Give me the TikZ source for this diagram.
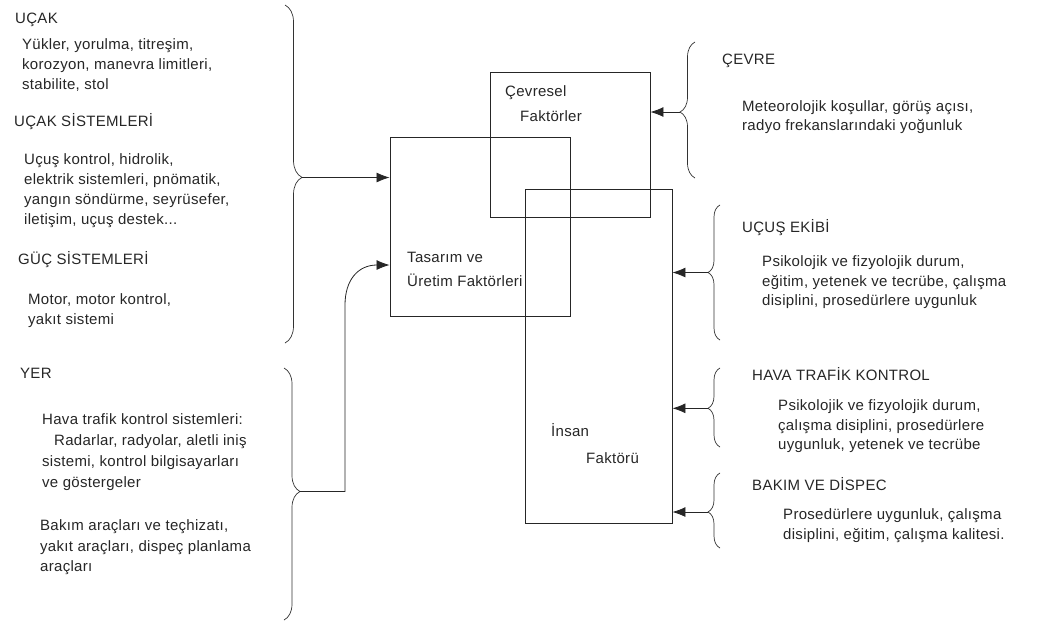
\documentclass[tikz,border=0pt]{standalone}
\usepackage{fontspec}
\setmainfont{Liberation Sans}[LetterSpace=2]
\usetikzlibrary{arrows.meta,decorations.pathreplacing}

\tikzset{
  txt/.style={anchor=west, inner sep=0pt, text height=10.5pt, text depth=3pt,
    font=\fontsize{15}{18}\selectfont, text=black!85},
  box/.style={draw=black!85, line width=0.9pt, inner sep=0pt},
  brc/.style 2 args={decorate, decoration={brace, amplitude=#1, aspect=#2},
    draw=black!80, line width=0.7pt},
  arr/.style={-{Latex[length=13pt,width=10pt]}, draw=black!85, line width=0.8pt}
}

\begin{document}
\begin{tikzpicture}[x=1pt,y=-1pt]
\useasboundingbox (0,0) rectangle (1051,625);

% boxes
\node[box, minimum width=160pt, minimum height=145pt] (cevresel) at (570,144.5) {};
\node[box, minimum width=180pt, minimum height=179pt] (tasarim) at (480,226.5) {};
\node[box, minimum width=147pt, minimum height=334pt] (insan) at (598.5,356) {};
\node[txt] (cev1) at (505,93) {Çevresel};
\node[txt] (cev2) at (520,118) {Faktörler};
\node[txt] (tas1) at (407,259) {Tasarım ve};
\node[txt] (tas2) at (407,283) {Üretim Faktörleri};
\node[txt] (ins1) at (551,433) {İnsan};
\node[txt] (ins2) at (586,460) {Faktörü};

% left: ucak
\node[txt] (ucak) at (15,20) {UÇAK};
\node[txt] (ucak1) at (22,46) {Yükler, yorulma, titreşim,};
\node[txt] (ucak2) at (22,66) {korozyon, manevra limitleri,};
\node[txt] (ucak3) at (22,86) {stabilite, stol};
\node[txt] (sis) at (14,123) {UÇAK SİSTEMLERİ};
\node[txt] (sis1) at (24,161) {Uçuş kontrol, hidrolik,};
\node[txt] (sis2) at (24,181) {elektrik sistemleri, pnömatik,};
\node[txt] (sis3) at (24,201) {yangın söndürme, seyrüsefer,};
\node[txt] (sis4) at (24,221) {iletişim, uçuş destek...};
\node[txt] (guc) at (18,261) {GÜÇ SİSTEMLERİ};
\node[txt] (guc1) at (28,301) {Motor, motor kontrol,};
\node[txt] (guc2) at (28,321) {yakıt sistemi};

% left: yer
\node[txt] (yer) at (20,375) {YER};
\node[txt] (yer1) at (42,421) {Hava trafik kontrol sistemleri:};
\node[txt] (yer2) at (54,442) {Radarlar, radyolar, aletli iniş};
\node[txt] (yer3) at (42,463) {sistemi, kontrol bilgisayarları};
\node[txt] (yer4) at (42,484) {ve göstergeler};
\node[txt] (yer5) at (40,527) {Bakım araçları ve teçhizatı,};
\node[txt] (yer6) at (40,548) {yakıt araçları, dispeç planlama};
\node[txt] (yer7) at (40,568) {araçları};

% right
\node[txt] (cevre) at (722,61) {ÇEVRE};
\node[txt] (cevre1) at (742,108) {Meteorolojik koşullar, görüş açısı,};
\node[txt] (cevre2) at (742,127) {radyo frekanslarındaki yoğunluk};
\node[txt] (ekip) at (742,229) {UÇUŞ EKİBİ};
\node[txt] (ekip1) at (762,263) {Psikolojik ve fizyolojik durum,};
\node[txt] (ekip2) at (762,283) {eğitim, yetenek ve tecrübe, çalışma};
\node[txt] (ekip3) at (762,302) {disiplini, prosedürlere uygunluk};
\node[txt] (atc) at (752,377) {HAVA TRAFİK KONTROL};
\node[txt] (atc1) at (778,407) {Psikolojik ve fizyolojik durum,};
\node[txt] (atc2) at (778,427) {çalışma disiplini, prosedürlere};
\node[txt] (atc3) at (778,446) {uygunluk, yetenek ve tecrübe};
\node[txt] (bakim) at (752,487) {BAKIM VE DİSPEC};
\node[txt] (bakim1) at (783,516) {Prosedürlere uygunluk, çalışma};
\node[txt] (bakim2) at (783,536) {disiplini, eğitim, çalışma kalitesi.};

% braces
\draw[brc={17pt}{0.51}] (285,5) -- (285,343);
\draw[brc={16pt}{0.49}] (284,368) -- (284,620);
\draw[brc={15pt}{0.485}] (695,178) -- (695,42);
\draw[brc={12pt}{0.5}] (720,340) -- (720,205);
\draw[brc={12pt}{0.49}] (720,447) -- (720,368);
\draw[brc={12pt}{0.48}] (720,548) -- (720,473);
\coordinate (ucaktip) at (302,177.5);
\coordinate (yertip) at (300,491.5);
\coordinate (cevtip) at (680,112);
\coordinate (ekiptip) at (708,272.5);
\coordinate (atctip) at (708,408.3);
\coordinate (bakimtip) at (708,512);
\coordinate (tasin) at ([yshift=-38.5pt]tasarim.west);

% arrows
\draw[arr] (ucaktip) -- (ucaktip -| tasarim.west);
\draw[arr] (yertip) -- (345,491.5) -- (345,305) .. controls (345,280) and (358,265) .. (tasin);
\draw[arr] (cevtip) -- (cevtip -| cevresel.east);
\draw[arr] (ekiptip) -- (ekiptip -| insan.east);
\draw[arr] (atctip) -- (atctip -| insan.east);
\draw[arr] (bakimtip) -- (bakimtip -| insan.east);
\end{tikzpicture}
\end{document}
